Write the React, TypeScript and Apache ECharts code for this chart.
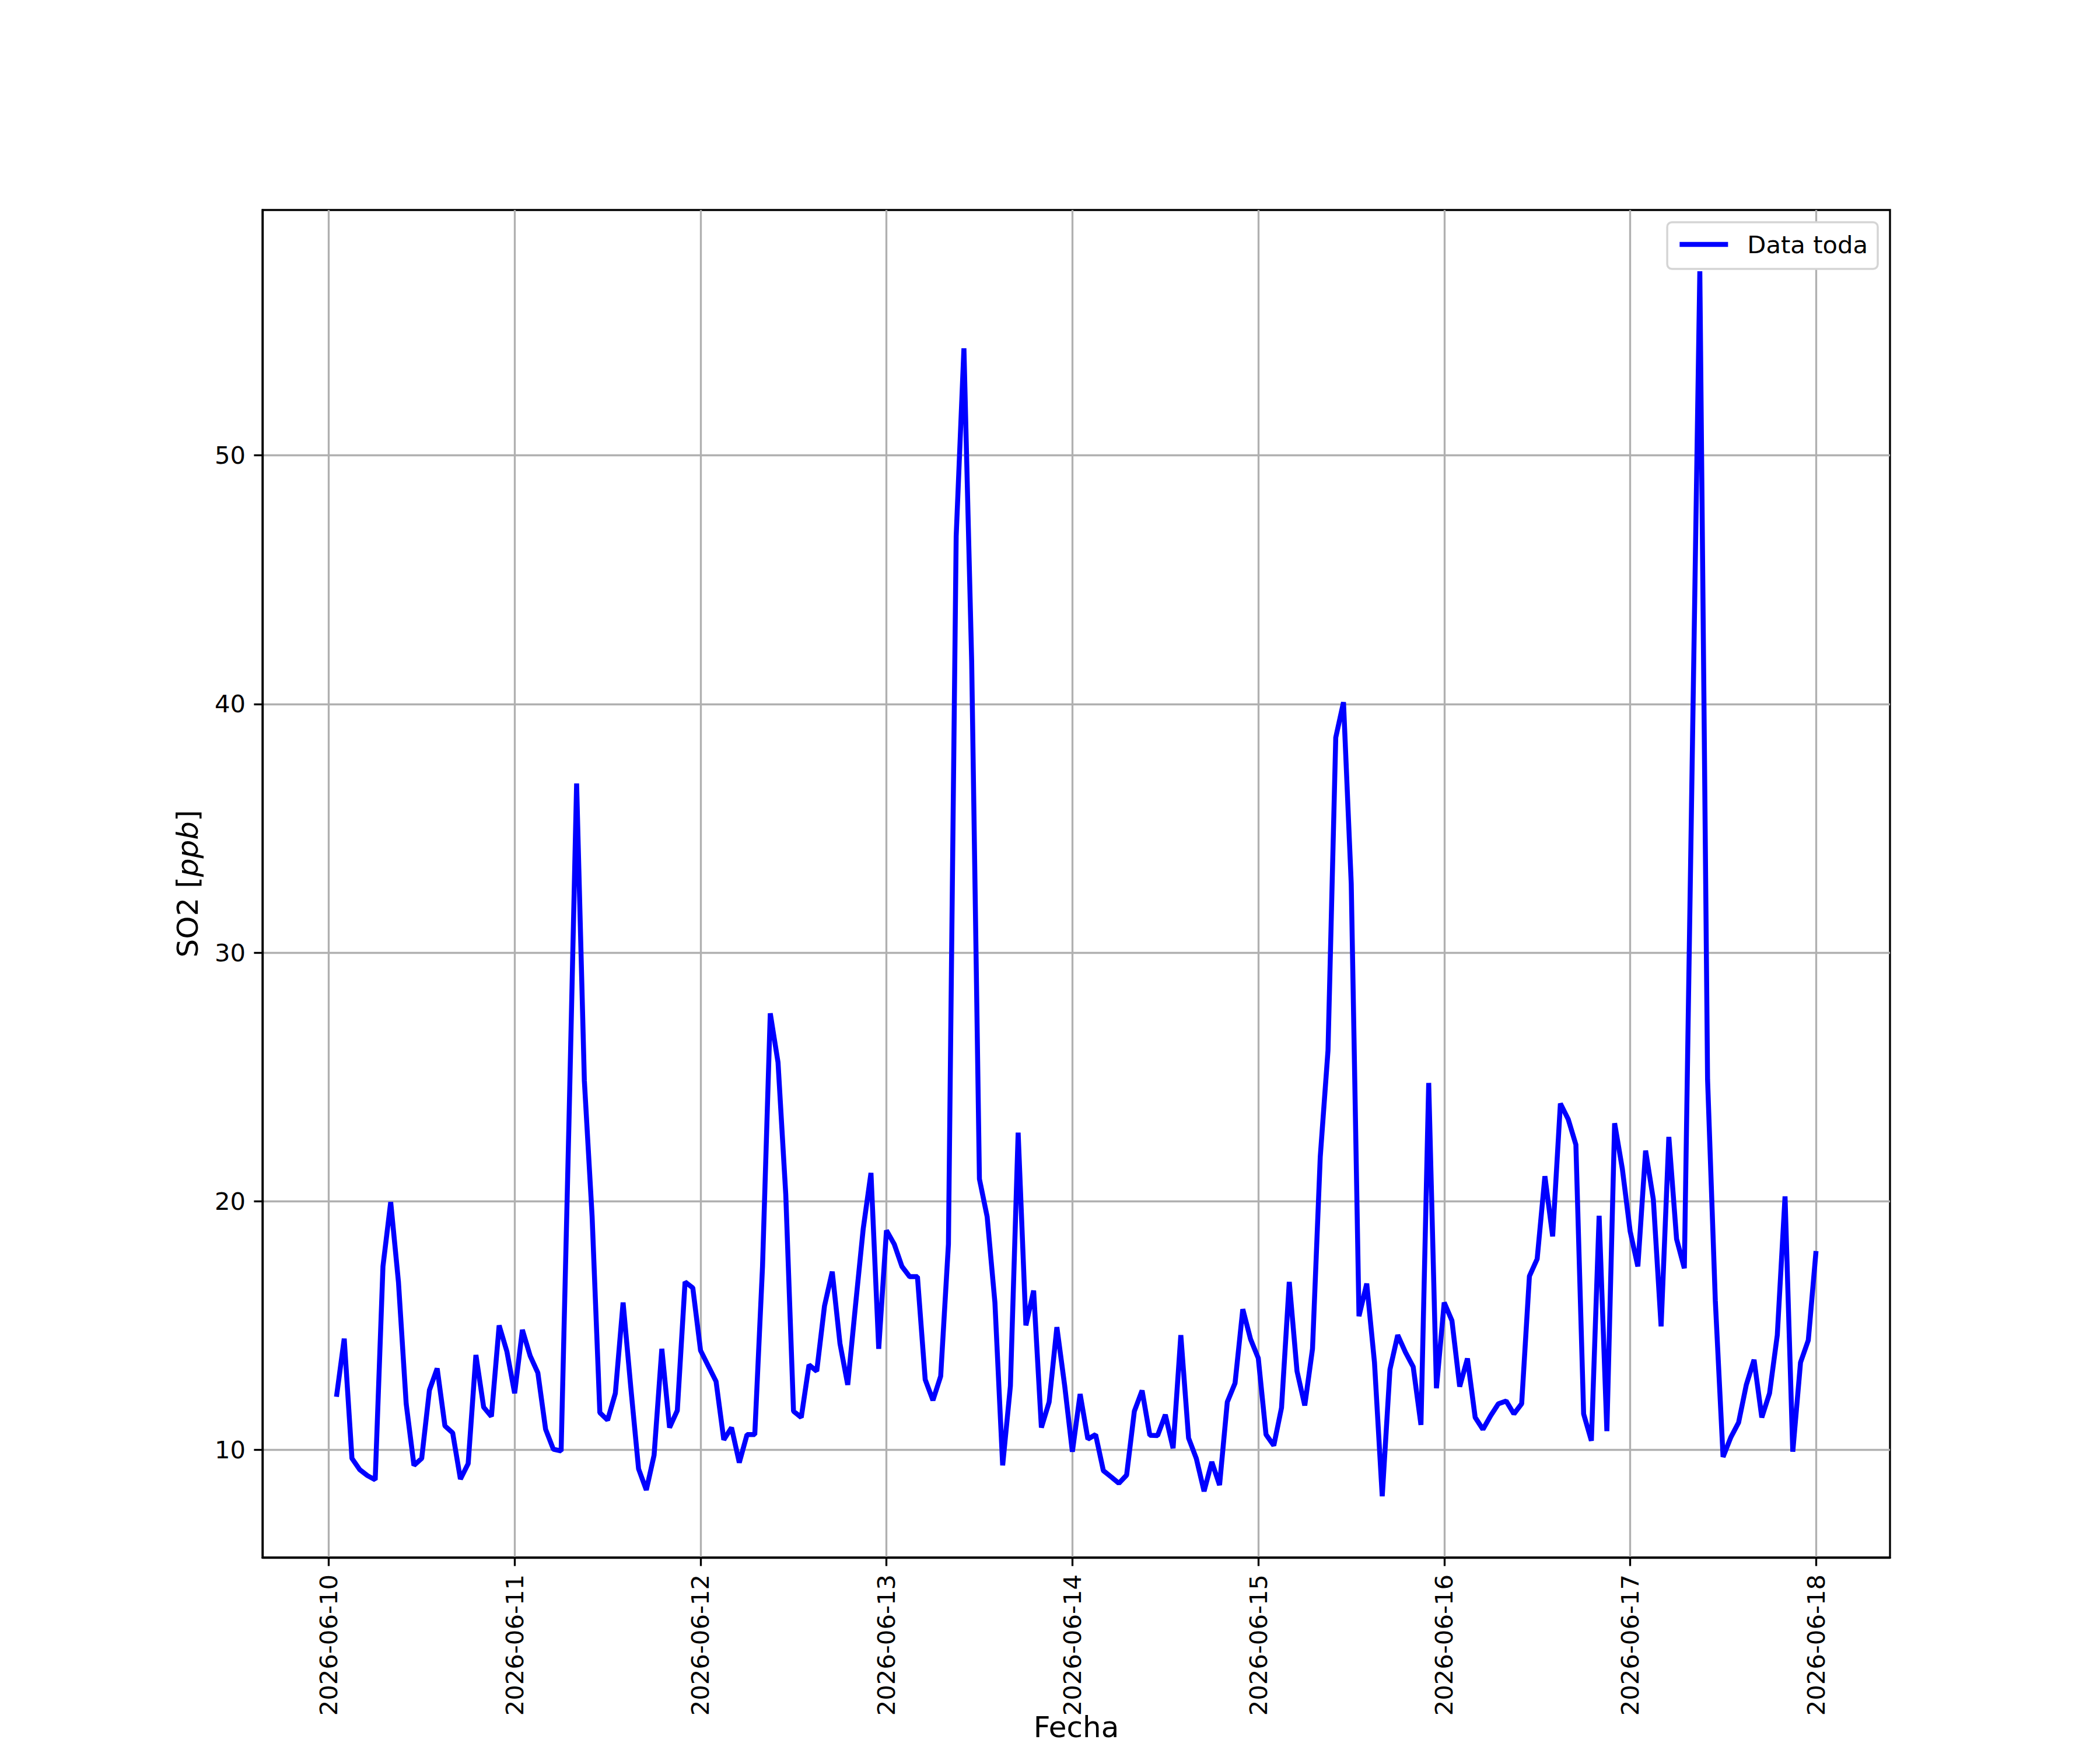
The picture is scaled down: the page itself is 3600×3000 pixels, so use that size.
import React, { useEffect, useRef } from "react";
import * as echarts from "echarts";

// Hourly SO2 values [ppb]; each array = 01:00 of that day through 00:00 of the next day
const day0610 = [12.14, 14.48, 9.66, 9.21, 8.97, 8.8, 17.38, 19.97, 16.76, 11.86, 9.38, 9.66, 12.41, 13.28, 10.97, 10.69, 8.83, 9.45, 13.82, 11.72, 11.35, 15.01, 13.96, 12.28];
const day0611 = [14.83, 13.79, 13.1, 10.83, 10.03, 9.96, 23.0, 36.8, 24.85, 19.4, 11.5, 11.2, 12.28, 15.93, 12.5, 9.24, 8.39, 9.79, 14.07, 10.9, 11.59, 16.76, 16.52, 14.0];
const day0612 = [13.38, 12.76, 10.41, 10.9, 9.49, 10.62, 10.62, 17.38, 27.56, 25.59, 20.28, 11.56, 11.31, 13.42, 13.17, 15.79, 17.17, 14.28, 12.62, 15.8, 18.9, 21.14, 14.07, 18.83];
const day0613 = [18.28, 17.38, 16.97, 16.97, 12.83, 12.0, 12.97, 18.28, 46.75, 54.3, 41.7, 20.9, 19.38, 15.93, 9.38, 12.58, 22.76, 15.01, 16.41, 10.9, 11.93, 14.94, 12.6, 9.93];
const day0614 = [12.25, 10.44, 10.62, 9.17, 8.92, 8.66, 8.99, 11.56, 12.39, 10.59, 10.58, 11.42, 10.07, 14.62, 10.48, 9.66, 8.34, 9.52, 8.59, 11.93, 12.69, 15.66, 14.46, 13.69];
const day0615 = [10.62, 10.18, 11.7, 16.76, 13.17, 11.79, 14.07, 21.79, 26.07, 38.65, 40.07, 32.77, 15.38, 16.69, 13.52, 8.14, 13.24, 14.62, 13.93, 13.34, 11.01, 24.76, 12.48, 15.93];
const day0616 = [15.2, 12.55, 13.68, 11.31, 10.83, 11.38, 11.86, 11.97, 11.45, 11.86, 16.99, 17.68, 21.01, 18.59, 23.93, 23.31, 22.28, 11.45, 10.37, 19.42, 10.76, 23.14, 21.3, 18.8];
const day0617 = [17.38, 22.04, 20.07, 14.97, 22.59, 18.48, 17.31, 37.4, 57.4, 24.9, 16.0, 9.72, 10.51, 11.1, 12.62, 13.63, 11.31, 12.28, 14.62, 20.2, 9.93, 13.52, 14.41, 18.0];

const xTickHours = [0, 24, 48, 72, 96, 120, 144, 168, 192];
const xTickLabels = ["2026-06-10", "2026-06-11", "2026-06-12", "2026-06-13", "2026-06-14", "2026-06-15", "2026-06-16", "2026-06-17", "2026-06-18"];
const yTicks = [10, 20, 30, 40, 50];

const seriesName = "Data toda";
const xTitle = "Fecha";

const FONT = "DejaVu Sans";

export default function App() {
  const ref = useRef<HTMLDivElement>(null);

  useEffect(() => {
    if (!ref.current) return;
    const chart = echarts.init(ref.current, undefined, { renderer: "svg" });

    const values = [day0610, day0611, day0612, day0613, day0614, day0615, day0616, day0617].flat();
    const points = values.map((v, i) => [i + 1, v]);
    const xs = points.map((p) => p[0]);
    const xLo = Math.min(...xs), xHi = Math.max(...xs);
    const yLo = Math.min(...values), yHi = Math.max(...values);
    const xPad = (xHi - xLo) * 0.05;
    const yPad = (yHi - yLo) * 0.05;

    const tickColor = "#000";
    const gridColor = "#b0b0b0";
    const lineW = 8.5;

    chart.setOption({
      animation: false,
      backgroundColor: "#ffffff",
      grid: {
        left: 450,
        top: 360,
        width: 2790,
        height: 2310,
        show: true,
        borderColor: "#000",
        borderWidth: 3.33,
        backgroundColor: "#ffffff",
        containLabel: false,
      },
      xAxis: {
        type: "value",
        min: xLo - xPad,
        max: xHi + xPad,
        axisLine: { show: true, onZero: false, lineStyle: { color: "#000", width: 3.33 } },
        axisTick: {
          show: true,
          customValues: xTickHours,
          length: 14.6,
          lineStyle: { color: tickColor, width: 3.33 },
        },
        axisLabel: {
          customValues: xTickHours,
          rotate: 90,
          margin: 29,
          fontFamily: FONT,
          fontSize: 41.7,
          color: "#000",
          formatter: (v: number) => {
            const i = xTickHours.indexOf(Math.round(v));
            return i >= 0 ? xTickLabels[i] : "";
          },
        },
        splitLine: { show: true, lineStyle: { color: gridColor, width: 3.33 } },
      },
      yAxis: {
        type: "value",
        min: yLo - yPad,
        max: yHi + yPad,
        axisLine: { show: true, onZero: false, lineStyle: { color: "#000", width: 3.33 } },
        axisTick: {
          show: true,
          customValues: yTicks,
          length: 14.6,
          lineStyle: { color: tickColor, width: 3.33 },
        },
        axisLabel: {
          customValues: yTicks,
          margin: 29,
          fontFamily: FONT,
          fontSize: 41.7,
          color: "#000",
        },
        splitLine: { show: true, lineStyle: { color: gridColor, width: 3.33 } },
      },
      legend: {
        show: true,
        right: 381,
        top: 381,
        orient: "vertical",
        padding: [14, 17, 18, 17],
        itemWidth: 83,
        itemHeight: 48,
        backgroundColor: "#ffffff",
        borderColor: "#d5d5d5",
        borderWidth: 3.5,
        borderRadius: 8,
        itemStyle: { opacity: 0 },
        lineStyle: { width: lineW, color: "#0000ff", opacity: 1 },
        textStyle: {
          fontFamily: FONT,
          fontSize: 41.7,
          color: "#000",
          lineHeight: 48,
          padding: [0, 0, 0, 28],
        },
        data: [seriesName],
      },
      series: [
        {
          name: seriesName,
          type: "line",
          data: points,
          symbol: "none",
          showSymbol: false,
          lineStyle: { color: "#0000ff", width: lineW },
          itemStyle: { color: "#0000ff" },
          z: 3,
        },
      ],
      graphic: [
        {
          type: "text",
          x: 1845,
          y: 2986,
          style: {
            text: xTitle,
            fontFamily: FONT,
            fontSize: 50,
            fill: "#000",
            align: "center",
            verticalAlign: "bottom",
          },
        },
        {
          type: "text",
          x: 322,
          y: 1515,
          rotation: Math.PI / 2,
          style: {
            text: "SO2 [{i|ppb}]",
            fontFamily: FONT,
            fontSize: 50,
            fill: "#000",
            align: "center",
            verticalAlign: "middle",
            rich: {
              i: { fontFamily: FONT, fontSize: 50, fontStyle: "italic", fill: "#000" },
            },
          },
        },
      ],
    });

    return () => chart.dispose();
  }, []);

  return (
    <div
      ref={ref}
      style={{ position: "absolute", left: 0, top: 0, width: 3600, height: 3000, background: "#fff" }}
    />
  );
}
